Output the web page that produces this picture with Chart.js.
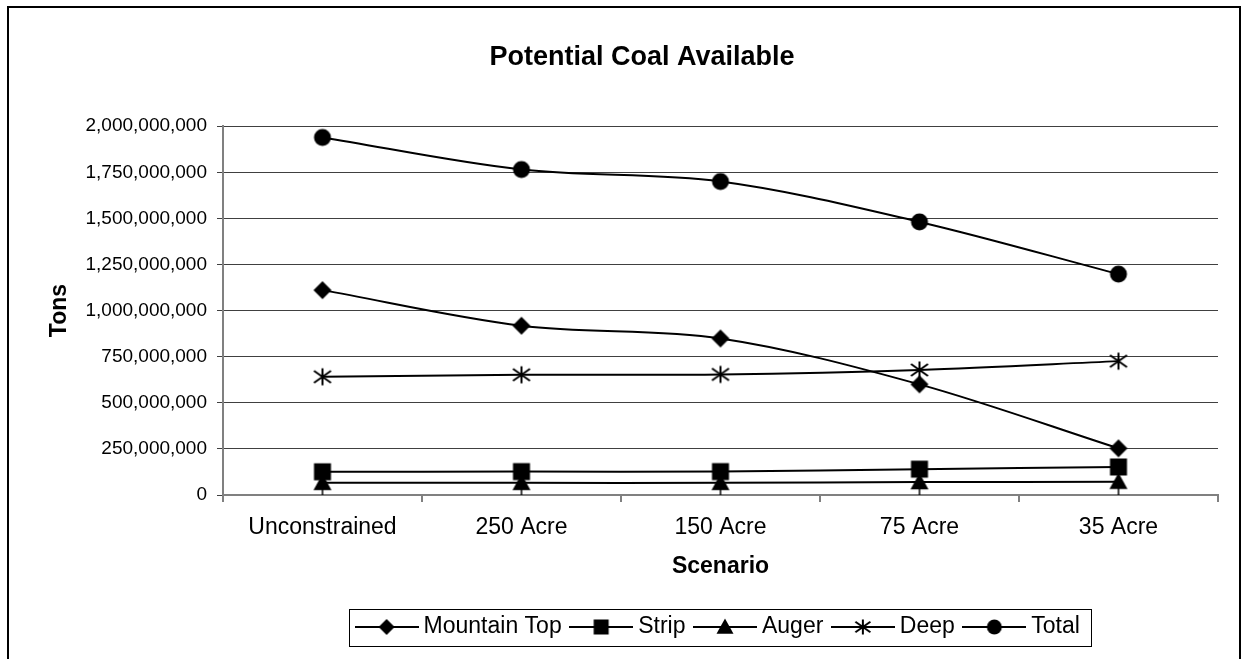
<!DOCTYPE html>
<html><head><meta charset="utf-8">
<script src="https://cdn.jsdelivr.net/npm/chart.js@4"></script>
<style>html,body{margin:0;padding:0;background:#fff}canvas{display:block}</style>
</head><body>
<canvas id="c" width="1244" height="659" style="width:1244px;height:659px"></canvas>
<script>
// ---- data ----
const categories = ['Unconstrained', '250 Acre', '150 Acre', '75 Acre', '35 Acre'];
const seriesNames = ['Mountain Top', 'Strip', 'Auger', 'Deep', 'Total'];
const mountainTop = [1111000000, 918000000, 849000000, 600000000, 253000000];
const strip = [126000000, 127000000, 127000000, 140000000, 152000000];
const auger = [66000000, 66000000, 66000000, 70000000, 72000000];
const deep = [641000000, 652000000, 654000000, 678000000, 726000000];
const total = [1939000000, 1765000000, 1700000000, 1481000000, 1198000000];
const yMin = 0, yMax = 2000000000, yStep = 250000000;

const FONT = "'Liberation Sans', Arial, Helvetica, sans-serif";

// ---- marker drawing ----
function drawMarker(ctx, type, cx, cy, s) {
  ctx.fillStyle = '#000'; ctx.strokeStyle = '#000';
  ctx.beginPath();
  if (type === 'diamond') {
    ctx.moveTo(cx, cy - s); ctx.lineTo(cx + s, cy); ctx.lineTo(cx, cy + s); ctx.lineTo(cx - s, cy); ctx.closePath(); ctx.fill();
  } else if (type === 'square') {
    ctx.fillRect(cx - s, cy - s, 2 * s, 2 * s);
  } else if (type === 'triangle') {
    ctx.moveTo(cx, cy - s); ctx.lineTo(cx + s, cy + s * 0.8); ctx.lineTo(cx - s, cy + s * 0.8); ctx.closePath(); ctx.fill();
  } else if (type === 'asterisk') {
    ctx.lineWidth = 2;
    ctx.moveTo(cx, cy - s); ctx.lineTo(cx, cy + s);
    ctx.moveTo(cx - s, cy - s * 0.7); ctx.lineTo(cx + s, cy + s * 0.7);
    ctx.moveTo(cx - s, cy + s * 0.7); ctx.lineTo(cx + s, cy - s * 0.7);
    ctx.stroke();
  } else if (type === 'circle') {
    ctx.arc(cx, cy, s, 0, Math.PI * 2); ctx.fill();
  }
}
function makeCanvas(w, h, fn) {
  const c = document.createElement('canvas'); c.width = w; c.height = h;
  fn(c.getContext('2d'), w / 2, h / 2); return c;
}
const markerTypes = ['diamond', 'square', 'triangle', 'asterisk', 'circle'];
const pointSizes = [9, 8.5, 9, 8.5, 8.5];
const pointImgs = markerTypes.map((t, i) => {
  if (t === 'triangle') {
    return makeCanvas(22, 36, (ctx, cx, cy) => {
      drawMarker(ctx, t, cx, cy, pointSizes[i]);
      ctx.lineWidth = 1.5; ctx.beginPath(); ctx.moveTo(cx, cy + 6); ctx.lineTo(cx, cy + 17); ctx.stroke();
    });
  }
  return makeCanvas(22, 22, (ctx, cx, cy) => drawMarker(ctx, t, cx, cy, pointSizes[i]));
});
const LEG_S = 64, LEG_B = 51;
const legendSizes = [8, 7.5, 8.5, 7.5, 7.5];
const legendImgs = markerTypes.map((t, i) => makeCanvas(LEG_S, 24, (ctx, cx, cy) => {
  ctx.strokeStyle = '#000'; ctx.lineWidth = 2;
  ctx.beginPath(); ctx.moveTo(0, cy); ctx.lineTo(LEG_S, cy); ctx.stroke();
  drawMarker(ctx, t, cx, cy, legendSizes[i]);
}));

const seriesData = [mountainTop, strip, auger, deep, total];
const datasets = seriesNames.map((name, i) => ({
  label: name,
  data: seriesData[i],
  borderColor: '#000',
  backgroundColor: '#000',
  borderWidth: 2,
  tension: 0.33,
  fill: false,
  pointStyle: pointImgs[i],
  pointRadius: 8,
  pointHoverRadius: 8
}));

const framePlugin = {
  id: 'frame',
  beforeDraw(chart) {
    const ctx = chart.ctx;
    ctx.save();
    ctx.fillStyle = '#fff'; ctx.fillRect(0, 0, chart.width, chart.height);
    ctx.strokeStyle = '#000'; ctx.lineWidth = 2;
    ctx.strokeRect(8, 7, 1232, 720);
    ctx.restore();
  },
  afterDraw(chart) {
    const lg = chart.legend; if (!lg || !lg.legendHitBoxes || !lg.legendHitBoxes.length) return;
    const hb = lg.legendHitBoxes;
    const first = hb[0], last = hb[hb.length - 1];
    const cy = first.top + first.height / 2;
    const left = Math.round(first.left + LEG_B / 2 - LEG_S / 2 - 6) + 0.5;
    const right = Math.round(last.left + last.width + 11) + 0.5;
    const top = Math.round(cy - 18.5) + 0.5, bottom = Math.round(cy + 18.5) + 0.5;
    const ctx = chart.ctx;
    ctx.save(); ctx.strokeStyle = '#000'; ctx.lineWidth = 1;
    ctx.strokeRect(left, top, right - left, bottom - top);
    ctx.restore();
  }
};

new Chart(document.getElementById('c'), {
  type: 'line',
  data: { labels: categories, datasets },
  plugins: [framePlugin],
  options: {
    responsive: false,
    animation: false,
    devicePixelRatio: 1,
    layout: { padding: { left: 66, right: 26, top: 0, bottom: 10.5 } },
    plugins: {
      title: {
        display: true,
        text: 'Potential Coal Available',
        color: '#000',
        font: { family: FONT, size: 27, weight: 'bold', lineHeight: 1.2 },
        padding: { top: 41.8, bottom: 52 }
      },
      legend: {
        display: true,
        position: 'bottom',
        fullSize: false,
        labels: {
          usePointStyle: true,
          pointStyleWidth: LEG_B,
          padding: 14,
          color: '#000',
          font: { family: FONT, size: 23 },
          generateLabels(chart) {
            return chart.data.datasets.map((ds, i) => ({
              text: ds.label, pointStyle: legendImgs[i], fillStyle: '#000', strokeStyle: '#000',
              lineWidth: 0, hidden: false, datasetIndex: i, fontColor: '#000'
            }));
          }
        }
      },
      tooltip: { enabled: false }
    },
    scales: {
      x: {
        type: 'category',
        offset: true,
        afterFit(s) { s.height = 106.5; },
        grid: { offset: true, drawOnChartArea: false, drawTicks: true, tickLength: 7, color: '#808080', lineWidth: 2 },
        border: { display: true, color: '#808080', width: 2 },
        ticks: { color: '#000', font: { family: FONT, size: 23 }, padding: 12.2, maxRotation: 0, autoSkip: false },
        title: { display: true, text: 'Scenario', color: '#000', font: { family: FONT, size: 23, weight: 'bold', lineHeight: 1.2 }, padding: { top: 0, bottom: 20.7 } }
      },
      y: {
        min: yMin, max: yMax,
        afterFit(s) { s.width = 157; },
        grid: { color: '#404040', lineWidth: 1, drawTicks: true, tickLength: 6 },
        border: { display: true, color: '#808080', width: 2 },
        ticks: {
          stepSize: yStep, color: '#000', padding: 10,
          font: { family: FONT, size: 19 },
          callback: v => Number(v).toLocaleString('en-US')
        },
        title: { display: true, text: 'Tons', color: '#000', font: { family: FONT, size: 23, weight: 'bold', lineHeight: 1.2 }, padding: { top: -20, bottom: 0 } }
      }
    }
  }
});
</script>
</body></html>
